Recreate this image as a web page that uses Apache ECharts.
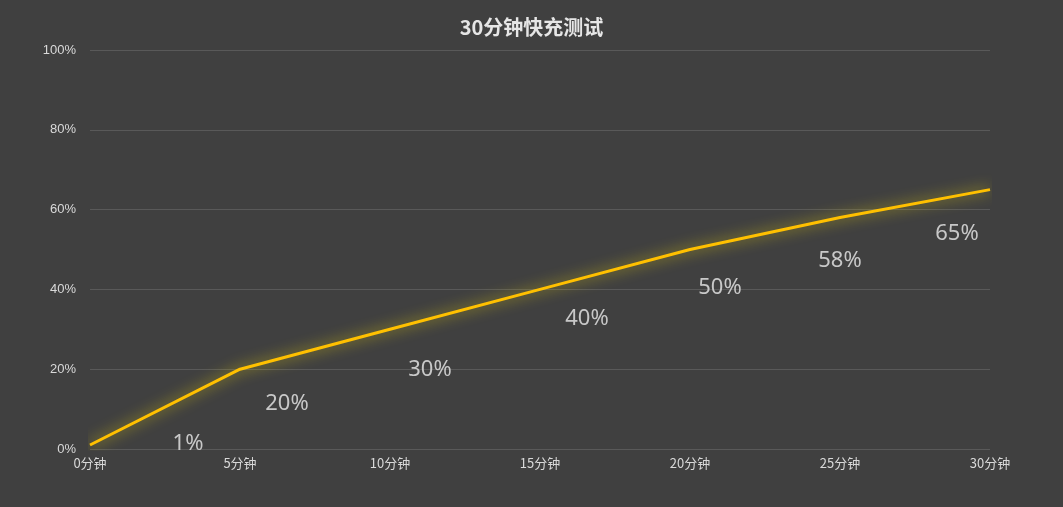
<!DOCTYPE html>
<html lang="zh">
<head>
    <meta charset="utf-8">
    <title>30分钟快充测试</title>
    <style>
        html, body { margin: 0; padding: 0; background: #404040; }
        #main { width: 1063px; height: 507px; }
    </style>
</head>
<body>
    <div id="main"></div>
    <script src="https://cdn.jsdelivr.net/npm/echarts@6/dist/echarts.min.js"></script>
    <script>
    var categories = ['0分钟', '5分钟', '10分钟', '15分钟', '20分钟', '25分钟', '30分钟'];
    var values = [1, 20, 30, 40, 50, 58, 65];
    // label offsets (x, y) relative to the point, as placed in the original
    var labelOffsets = [[98, -18], [47, 18], [40, 24], [47, 13], [30, 22], [0, 27], [-33, 28]];

    var chart = echarts.init(document.getElementById('main'));

    var seriesData = values.map(function (v, i) {
        return {
            value: v,
            label: { offset: labelOffsets[i] }
        };
    });

    chart.setOption({
        backgroundColor: '#404040',
        title: {
            text: '30分钟快充测试',
            left: 'center',
            top: 12,
            textStyle: { color: '#e6e6e6', fontSize: 20, fontWeight: 'bold', fontFamily: 'Noto Sans CJK SC' }
        },
        grid: { left: 90, right: 73, top: 50, bottom: 58 },
        xAxis: {
            type: 'category',
            data: categories,
            boundaryGap: false,
            axisLine: { show: false },
            axisTick: { show: false },
            axisLabel: { color: '#d9d9d9', fontSize: 13, margin: 8, fontFamily: 'Noto Sans CJK SC' }
        },
        yAxis: {
            type: 'value',
            min: 0,
            max: 100,
            interval: 20,
            axisLine: { show: false },
            axisTick: { show: false },
            splitLine: { lineStyle: { color: '#595959', width: 1 } },
            axisLabel: { color: '#d9d9d9', fontSize: 13, margin: 14, formatter: '{value}%' }
        },
        series: [{
            type: 'line',
            data: seriesData,
            symbol: 'circle',
            symbolSize: 1,
            showAllSymbol: true,
            itemStyle: { color: 'rgba(0,0,0,0)' },
            lineStyle: {
                color: '#ffc000',
                width: 3,
                shadowColor: 'rgba(255, 230, 0, 0.8)',
                shadowBlur: 14
            },
            label: {
                show: true,
                position: 'bottom',
                formatter: '{c}%',
                color: '#c8c8c8',
                fontSize: 22,
                fontFamily: 'Noto Sans'
            }
        }]
    });
    </script>
</body>
</html>
